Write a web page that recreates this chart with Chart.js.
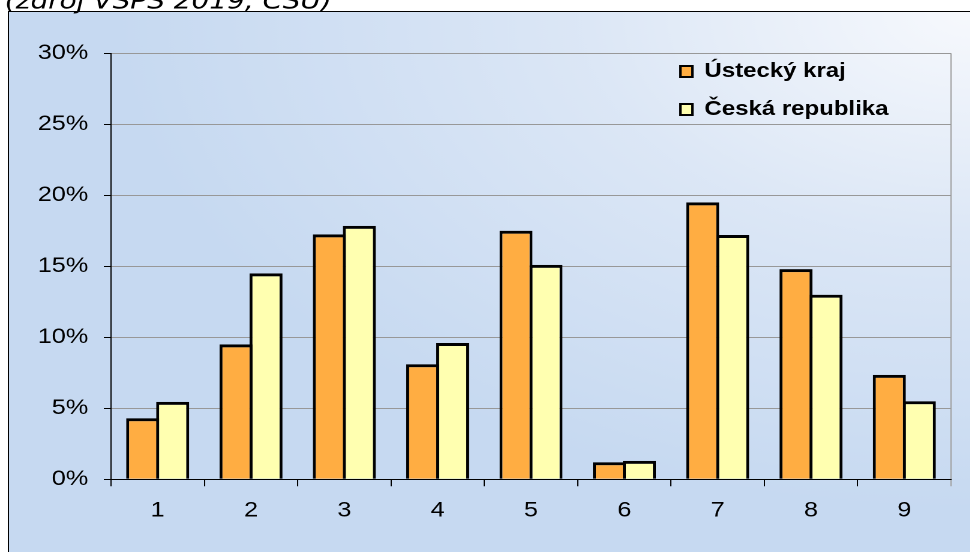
<!DOCTYPE html>
<html>
<head>
<meta charset="utf-8">
<script src="https://cdn.jsdelivr.net/npm/chart.js@4.4.1/dist/chart.umd.min.js"></script>
<style>
  html, body { margin: 0; padding: 0; background: #fff; overflow: hidden; }
  /* puvodni obrazek je vodorovne roztazeny, proto scaleX */
  #obal { width: 809px; height: 552px; transform: scaleX(1.2); transform-origin: 0 0; }
</style>
</head>
<body>
<div id="obal"><canvas id="graf" width="809" height="552"></canvas></div>
<script>
// Data grafu
const kategorie = ['1', '2', '3', '4', '5', '6', '7', '8', '9'];
const usteckyKraj = [4.3, 9.5, 17.25, 8.1, 17.5, 1.2, 19.5, 14.8, 7.35];
const ceskaRepublika = [5.45, 14.5, 17.85, 9.6, 15.1, 1.3, 17.2, 13.0, 5.5];
const hodnotyOsyY = [0, 5, 10, 15, 20, 25, 30];

const pismo = '"Liberation Sans", Arial, sans-serif';

// pozadi s prechodem, ramecek a popis zdroje
const pozadi = {
    id: 'pozadi',
    beforeDraw(chart) {
        const ctx = chart.ctx;
        const w = chart.width, h = chart.height;
        ctx.save();
        ctx.fillStyle = '#fff';
        ctx.fillRect(0, 0, w, h);
        ctx.translate(w, 11);
        ctx.scale(1, 0.7);
        const g = ctx.createRadialGradient(0, 0, 0, 0, 0, 720);
        g.addColorStop(0, '#f7f9fd');
        g.addColorStop(0.45, '#dce7f6');
        g.addColorStop(1, '#c6d9f1');
        ctx.fillStyle = g;
        ctx.fillRect(6.67 - w, 0, w, (h - 11) / 0.7);
        ctx.restore();

        ctx.save();
        ctx.strokeStyle = '#000';
        ctx.lineWidth = 1;
        ctx.beginPath();
        ctx.moveTo(7, h);
        ctx.lineTo(7, 11.5);
        ctx.lineTo(w, 11.5);
        ctx.stroke();
        ctx.font = 'italic 23.3px "DejaVu Sans"';
        ctx.fillStyle = '#000';
        ctx.textBaseline = 'alphabetic';
        ctx.fillText('(zdroj VŠPS 2019, ČSÚ)', 4, 8.5);
        ctx.restore();
    },
    afterLayout(chart) {
        // legenda vpravo nahore uvnitr plochy grafu
        const lg = chart.legend;
        lg.left = 549;
        lg.top = 43.5;
        lg.right = 809;
        lg.bottom = 220;
    }
};

const okraj = { top: 3, left: 2.5, right: 2.5, bottom: 0 };

new Chart(document.getElementById('graf'), {
    type: 'bar',
    data: {
        labels: kategorie,
        datasets: [{
            label: 'Ústecký kraj',
            data: usteckyKraj,
            backgroundColor: '#ffad42',
            borderColor: '#000',
            borderWidth: okraj,
            borderSkipped: 'start',
            categoryPercentage: 0.643,
            barPercentage: 1.1
        }, {
            label: 'Česká republika',
            data: ceskaRepublika,
            backgroundColor: '#ffffb0',
            borderColor: '#000',
            borderWidth: okraj,
            borderSkipped: 'start',
            categoryPercentage: 0.643,
            barPercentage: 1.1
        }]
    },
    options: {
        responsive: false,
        devicePixelRatio: 2,
        animation: false,
        layout: {
            padding: { top: 53.3, right: 16.5, left: 0, bottom: 0 }
        },
        plugins: {
            legend: {
                position: 'chartArea',
                align: 'start',
                labels: {
                    color: '#000',
                    font: { family: pismo, size: 20, weight: 'bold' },
                    boxWidth: 10,
                    boxHeight: 11,
                    padding: 18,
                    generateLabels(chart) {
                        const items = Chart.defaults.plugins.legend.labels.generateLabels(chart);
                        items.forEach(it => { it.lineWidth = 2; it.strokeStyle = '#000'; });
                        return items;
                    }
                }
            },
            tooltip: { enabled: false }
        },
        scales: {
            x: {
                afterFit(scale) { scale.height = 72.7; },
                ticks: {
                    color: '#000',
                    font: { family: pismo, size: 21 },
                    padding: 12
                },
                grid: {
                    offset: true,
                    drawOnChartArea: true,
                    color: c => c.type === 'tick' ? 'rgba(0,0,0,0)' : '#a0a0a0',
                    tickColor: c => c.type === 'tick' ? '#000' : '#a0a0a0',
                    tickLength: 7
                },
                border: { color: '#000', width: 1 }
            },
            y: {
                min: 0,
                max: 30,
                afterBuildTicks(scale) {
                    scale.ticks = hodnotyOsyY.map(v => ({ value: v }));
                },
                afterFit(scale) { scale.width = 92.5; },
                ticks: {
                    color: '#000',
                    font: { family: pismo, size: 21 },
                    padding: 13,
                    callback: v => v + '%'
                },
                grid: {
                    color: '#989898',
                    tickColor: '#000',
                    tickLength: 6,
                    lineWidth: 1
                },
                border: { color: '#000', width: 1 }
            }
        }
    },
    plugins: [pozadi]
});
</script>
</body>
</html>
